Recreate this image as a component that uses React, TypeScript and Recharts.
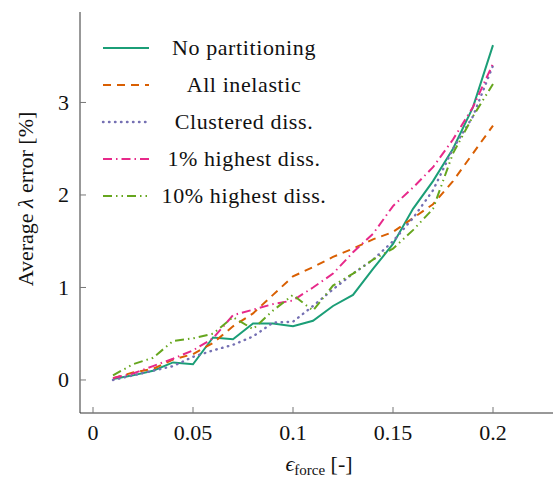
import React from 'react';
import { LineChart, Line, XAxis, YAxis, Legend, Label } from 'recharts';

const epsForce = [0.01, 0.02, 0.03, 0.04, 0.05, 0.06, 0.07, 0.08, 0.09, 0.1, 0.11, 0.12, 0.13, 0.14, 0.15, 0.16, 0.17, 0.18, 0.19, 0.2];
const noPartitioning = [0.01, 0.05, 0.1, 0.19, 0.17, 0.46, 0.44, 0.61, 0.61, 0.58, 0.64, 0.8, 0.92, 1.2, 1.47, 1.85, 2.15, 2.5, 2.95, 3.62];
const allInelastic = [0.02, 0.08, 0.12, 0.22, 0.28, 0.4, 0.58, 0.72, 0.92, 1.12, 1.22, 1.33, 1.42, 1.52, 1.6, 1.75, 1.9, 2.15, 2.45, 2.75];
const clusteredDiss = [0.0, 0.05, 0.1, 0.15, 0.25, 0.32, 0.38, 0.47, 0.62, 0.63, 0.8, 0.98, 1.15, 1.3, 1.5, 1.75, 2.05, 2.5, 2.85, 3.4];
const highest1 = [0.02, 0.07, 0.15, 0.23, 0.32, 0.45, 0.7, 0.76, 0.82, 0.86, 1.0, 1.15, 1.38, 1.58, 1.88, 2.08, 2.3, 2.6, 2.95, 3.42];
const highest10 = [0.05, 0.17, 0.24, 0.42, 0.45, 0.5, 0.68, 0.55, 0.75, 0.92, 0.75, 1.02, 1.15, 1.3, 1.42, 1.62, 1.85, 2.45, 2.85, 3.2];

const xMajorTicks = [0, 0.05, 0.1, 0.15, 0.2];
const xMinorTicks = Array.from({ length: 19 }, (_, i) => +(i * 0.0125).toFixed(4));
const yMajorTicks = [0, 1, 2, 3];
const yMinorTicks = Array.from({ length: 21 }, (_, i) => +(-0.2 + i * 0.2).toFixed(2));

const series = [
  { key: 'np', name: 'No partitioning', values: noPartitioning, color: '#1b9e77', dash: undefined as string | undefined, width: 2, cap: 'butt' },
  { key: 'ai', name: 'All inelastic', values: allInelastic, color: '#d95f02', dash: '8 6', width: 2, cap: 'butt' },
  { key: 'cd', name: 'Clustered diss.', values: clusteredDiss, color: '#7570b3', dash: '0.5 5.5', width: 2.4, cap: 'round' },
  { key: 'h1', name: '1% highest diss.', values: highest1, color: '#e7298a', dash: '9 4 1.5 4', width: 2, cap: 'butt' },
  { key: 'h10', name: '10% highest diss.', values: highest10, color: '#66a61e', dash: '9 4 1.5 4 1.5 4', width: 2, cap: 'butt' },
];

const data = epsForce.map((x, i) => {
  const row: Record<string, number> = { x };
  series.forEach((s) => { row[s.key] = s.values[i]; });
  return row;
});

const FONT = "'Liberation Serif', 'Times New Roman', serif";
const TEXT = '#111';
const AXIS = '#333';
const TICK = '#777';

const fmtX = (v: number) => (v === 0 ? '0' : String(v));

const XTick = (props: any) => {
  const { x, y, payload } = props;
  return (
    <text x={x} y={y} dy="0.72em" textAnchor="middle" fontFamily={FONT} fontSize={22} fill={TEXT}>
      {fmtX(payload.value)}
    </text>
  );
};

const YTick = (props: any) => {
  const { x, y, payload } = props;
  return (
    <text x={x} y={y} dy="0.34em" textAnchor="end" fontFamily={FONT} fontSize={22} fill={TEXT}>
      {String(payload.value)}
    </text>
  );
};

const LegendBox = () => (
  <svg width={270} height={190} style={{ display: 'block' }}>
    {series.map((s, i) => {
      const y = 18 + 37 * i;
      return (
        <g key={s.key}>
          <line x1={8} x2={54} y1={y} y2={y} stroke={s.color} strokeWidth={s.width} strokeDasharray={s.dash} strokeLinecap={s.cap as any} />
          <text x={149} y={y} dy="0.34em" textAnchor="middle" fontFamily={FONT} fontSize={22} fill={TEXT} letterSpacing={0.6}>
            {s.name}
          </text>
        </g>
      );
    })}
  </svg>
);

export default function App() {
  return (
    <div style={{ position: 'absolute', left: 0, top: 0, fontFamily: FONT }}>
      <LineChart width={554} height={484} data={data} margin={{ top: 12, right: 1, bottom: 0, left: 0 }}>
        <XAxis xAxisId="xminor" dataKey="x" type="number" domain={[-0.0065, 0.23]} allowDataOverflow ticks={xMinorTicks} interval={0} tick={false} tickSize={-3.5} height={0} axisLine={{ stroke: AXIS }} tickLine={{ stroke: TICK }} />
        <XAxis xAxisId="x" dataKey="x" type="number" domain={[-0.0065, 0.23]} allowDataOverflow ticks={xMajorTicks} interval={0} tickSize={-6} tickMargin={17} height={71} axisLine={{ stroke: AXIS }} tickLine={{ stroke: TICK }} tick={<XTick />}>
          <Label
            content={() => (
              <text x={319} y={471} textAnchor="middle" fontFamily={FONT} fontSize={22} fill={TEXT}>
                <tspan fontStyle="italic">ϵ</tspan>
                <tspan fontSize={15} dy={4}>force</tspan>
                <tspan dy={-4}> [-]</tspan>
              </text>
            )}
          />
        </XAxis>
        <XAxis xAxisId="xtop" orientation="top" dataKey="x" type="number" domain={[-0.0065, 0.23]} allowDataOverflow ticks={xMinorTicks} interval={0} tick={false} tickSize={-3.5} height={0} axisLine={{ stroke: AXIS }} tickLine={{ stroke: TICK }} />
        <XAxis xAxisId="xtopmaj" orientation="top" dataKey="x" type="number" domain={[-0.0065, 0.23]} allowDataOverflow ticks={xMajorTicks} interval={0} tick={false} tickSize={-6} height={0} axisLine={false} tickLine={{ stroke: TICK }} />

        <YAxis yAxisId="yminor" type="number" domain={[-0.357, 3.978]} allowDataOverflow ticks={yMinorTicks} interval={0} tick={false} tickSize={-3.5} width={0} axisLine={{ stroke: AXIS }} tickLine={{ stroke: TICK }} />
        <YAxis yAxisId="y" type="number" domain={[-0.357, 3.978]} allowDataOverflow ticks={yMajorTicks} interval={0} tickSize={-6} tickMargin={17} width={80} axisLine={{ stroke: AXIS }} tickLine={{ stroke: TICK }} tick={<YTick />}>
          <Label
            content={() => (
              <text transform="translate(26,199) rotate(-90)" dy="0.34em" textAnchor="middle" fontFamily={FONT} fontSize={22} fill={TEXT}>
                Average <tspan fontStyle="italic">λ</tspan> error [%]
              </text>
            )}
          />
        </YAxis>
        <YAxis yAxisId="yright" orientation="right" type="number" domain={[-0.357, 3.978]} allowDataOverflow ticks={yMinorTicks} interval={0} tick={false} tickSize={-3.5} width={0} axisLine={{ stroke: AXIS }} tickLine={{ stroke: TICK }} />
        <YAxis yAxisId="yrightmaj" orientation="right" type="number" domain={[-0.357, 3.978]} allowDataOverflow ticks={yMajorTicks} interval={0} tick={false} tickSize={-6} width={0} axisLine={false} tickLine={{ stroke: TICK }} />

        <Legend layout="vertical" align="center" verticalAlign="middle" wrapperStyle={{ top: 30, left: 95, width: 270, height: 190 }} content={() => <LegendBox />} />

        {series.map((s) => (
          <Line
            key={s.key}
            xAxisId="x"
            yAxisId="y"
            dataKey={s.key}
            name={s.name}
            type="linear"
            stroke={s.color}
            strokeWidth={s.width}
            strokeDasharray={s.dash}
            strokeLinecap={s.cap as any}
            dot={false}
            activeDot={false}
            isAnimationActive={false}
          />
        ))}
      </LineChart>
    </div>
  );
}
